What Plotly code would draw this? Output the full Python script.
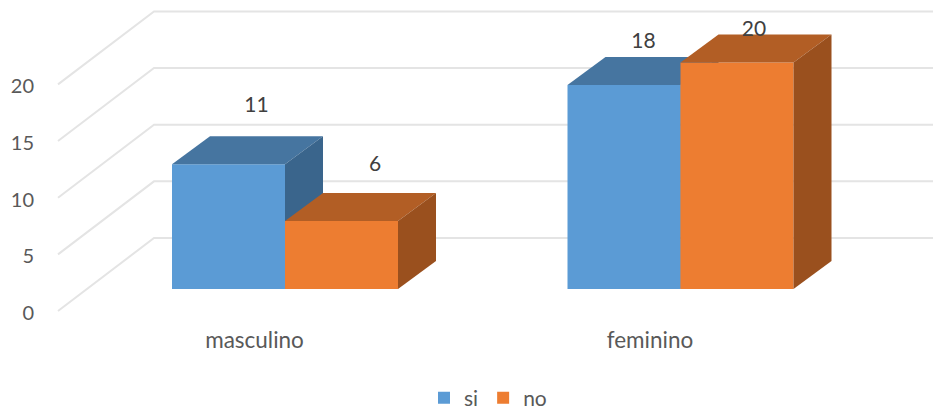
import plotly.graph_objects as go

# data
categories = ["masculino", "feminino"]
si_values = [11, 18]
no_values = [6, 20]
series_names = ["si", "no"]
y_ticks = [0, 5, 10, 15, 20]

# style / geometry (pixels of the oblique projection)
W, H = 933, 410
M_L, M_B = 35, 86
ZERO_PX = 311
PX_PER_CAT = 395.5
PX_PER_VAL = 11.33
CAT0_PX = 254.5
GROUP_SHIFT = 30.5
BAR_W = 113
DEPTH_X, DEPTH_Y = 38, 28
BASE_RISE = 22
WALL_LEFT, WALL_BACK = 58, 154
WALL_RISE = 73
LEGEND_LEFT_PX = 424
LEGEND_CENTER_PX = 398
FRONT = {"si": "#5b9bd5", "no": "#ed7d31"}
TOP = {"si": "#4675a0", "no": "#b25e25"}
SIDE = {"si": "#3a658c", "no": "#9a501e"}
GRID = "#e4e4e4"
FONT = "Lato"


def cx(px):
    return (px - CAT0_PX) / PX_PER_CAT


def dx(px):
    return px / PX_PER_CAT


def dy(px):
    return px / PX_PER_VAL


x_range = [cx(M_L), cx(W)]
y_range = [-(H - M_B - ZERO_PX) / PX_PER_VAL, ZERO_PX / PX_PER_VAL]
cat_pos = list(range(len(categories)))
base = dy(BASE_RISE)

fig = go.Figure()

# back and side walls
for v in y_ticks:
    fig.add_trace(go.Scatter(
        x=[cx(WALL_LEFT), cx(WALL_BACK), cx(W)],
        y=[v, v + dy(WALL_RISE), v + dy(WALL_RISE)],
        mode="lines", line=dict(color=GRID, width=2),
        showlegend=False, hoverinfo="skip"))

LABEL_SHIFT = {"si": [(28, 58), (19.5, 42)], "no": [(33.5, 55), (17, 32)]}


def add_series(name, values, shift, axis_n):
    xa, ya = f"x{axis_n}", f"y{axis_n}"
    fig.add_trace(go.Bar(
        x=cat_pos, y=values, base=base, name=name, xaxis=xa, yaxis=ya,
        offset=dx(shift), width=dx(BAR_W),
        marker=dict(color=FRONT[name], line=dict(width=0)), hoverinfo="skip"))
    for c, v in zip(cat_pos, values):
        left = c + dx(shift)
        right = left + dx(BAR_W)
        top = v + base
        fig.add_trace(go.Scatter(
            x=[left, right, right + dx(DEPTH_X), left + dx(DEPTH_X), left],
            y=[top, top, top + dy(DEPTH_Y), top + dy(DEPTH_Y), top],
            mode="lines", fill="toself", fillcolor=TOP[name],
            line=dict(width=0, color=TOP[name]), xaxis=xa, yaxis=ya,
            showlegend=False, hoverinfo="skip"))
        fig.add_trace(go.Scatter(
            x=[right, right, right + dx(DEPTH_X), right + dx(DEPTH_X), right],
            y=[base, top, top + dy(DEPTH_Y), base + dy(DEPTH_Y), base],
            mode="lines", fill="toself", fillcolor=SIDE[name],
            line=dict(width=0, color=SIDE[name]), xaxis=xa, yaxis=ya,
            showlegend=False, hoverinfo="skip"))


add_series("si", si_values, GROUP_SHIFT - BAR_W, 2)
add_series("no", no_values, GROUP_SHIFT, 3)

# data labels, above everything
for name, values in zip(series_names, [si_values, no_values]):
    left_shift = GROUP_SHIFT - BAR_W if name == "si" else GROUP_SHIFT
    fig.add_trace(go.Scatter(
        x=[c + dx(left_shift + BAR_W / 2 + s[0]) for c, s in zip(cat_pos, LABEL_SHIFT[name])],
        y=[v + base + dy(s[1]) for v, s in zip(values, LABEL_SHIFT[name])],
        text=[str(v) for v in values], mode="text", textposition="middle center",
        textfont=dict(family=FONT, size=21, color="#404040"),
        xaxis="x3", yaxis="y3", showlegend=False, hoverinfo="skip"))

hidden = dict(visible=False, fixedrange=True)
plot_h = H - M_B
fig.update_layout(
    width=W, height=H, autosize=False,
    margin=dict(l=M_L, r=0, t=0, b=M_B, pad=0, autoexpand=False),
    paper_bgcolor="white", plot_bgcolor="white",
    barmode="overlay", showlegend=True,
    font=dict(family=FONT, size=20, color="#595959"),
    legend=dict(orientation="h", x=(LEGEND_LEFT_PX - M_L) / (W - M_L), xref="paper", xanchor="left",
                y=(H - M_B - LEGEND_CENTER_PX) / plot_h, yanchor="middle",
                font=dict(size=21, color="#595959"), bgcolor="rgba(0,0,0,0)"),
    xaxis=dict(range=x_range, tickmode="array", tickvals=cat_pos, ticktext=categories,
               tickfont=dict(size=22.5),
               showgrid=False, zeroline=False, showline=False, ticks="", fixedrange=True),
    yaxis=dict(range=y_range, tickmode="array", tickvals=y_ticks, ticklabelshift=2,
               showgrid=False, zeroline=False, showline=False, ticks="", fixedrange=True),
    xaxis2=dict(range=x_range, overlaying="x", **hidden),
    yaxis2=dict(range=y_range, overlaying="y", **hidden),
    xaxis3=dict(range=x_range, overlaying="x", **hidden),
    yaxis3=dict(range=y_range, overlaying="y", **hidden),
)
fig.write_html("out.html", config={"displayModeBar": False},
               post_script="document.body.style.margin='0';")
